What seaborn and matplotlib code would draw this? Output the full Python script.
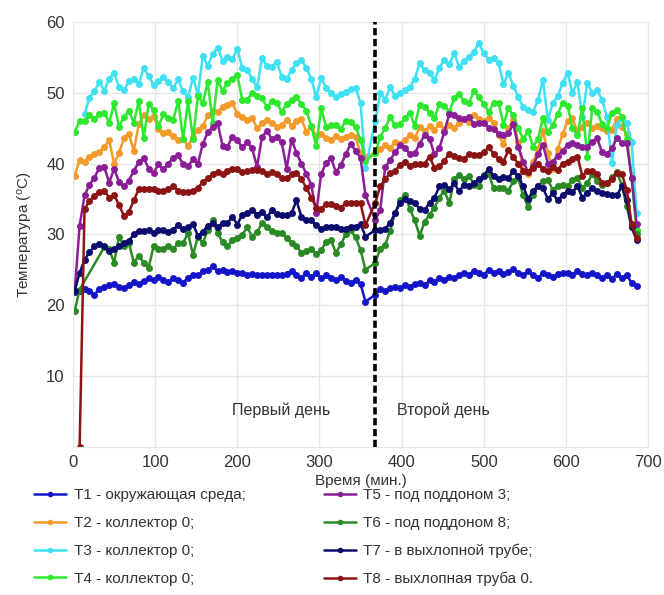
import numpy as np
import pandas as pd
import seaborn as sns
import matplotlib
matplotlib.use("Agg")
import matplotlib.pyplot as plt
from matplotlib.lines import Line2D

# ---- data ----
time_day1 = list(range(2, 357, 6))      # minutes, first day
time_day2 = list(range(368, 687, 6))    # minutes, second day
nan = np.nan

t1 = [21.8, 22.0, 22.3, 22.0, 21.5, 22.3, 22.6, 22.8, 23.0, 22.6,
      22.5, 22.8, 23.3, 23.0, 23.4, 23.8, 23.5, 24.0, 23.6, 23.3,
      23.8, 23.5, 23.2, 23.9, 24.3, 24.2, 24.8, 25.0, 25.5, 24.8,
      25.0, 24.7, 24.9, 24.6, 24.6, 24.3, 24.4, 24.2, 24.2, 24.2,
      24.2, 24.3, 24.2, 24.4, 24.9, 24.2, 23.8, 24.6, 24.0, 24.6,
      23.8, 24.2, 23.8, 23.5, 24.0, 23.4, 23.2, 23.6, 23.0, 20.5,
      21.5, 22.3, 22.0, 22.4, 22.6, 22.4, 22.8, 22.6, 23.0, 23.2,
      22.8, 23.5, 23.3, 23.8, 23.5, 24.0, 23.8, 24.2, 24.5, 24.3,
      24.9, 24.5, 24.3, 25.0, 24.6, 24.8, 24.4, 24.7, 25.1, 24.5,
      24.2, 24.8, 24.3, 23.9, 24.5, 24.3, 24.0, 24.4, 24.5, 24.6,
      24.3, 24.8, 24.4, 24.2, 24.6, 24.3, 23.9, 24.2, 23.7, 24.4,
      23.8, 24.2, 23.2, 22.7]

t2 = [38.3, 40.5, 40.2, 41.0, 41.3, 41.6, 42.3, 43.3, 40.0, 41.5,
      43.6, 44.2, 41.8, 45.6, 46.8, 46.3, 46.7, 44.9, 44.3, 44.4,
      43.9, 43.4, 43.5, 42.5, 43.8, 44.8, 45.3, 46.8, 47.5, 47.3,
      48.0, 48.3, 48.6, 47.0, 46.6, 46.2, 46.5, 45.0, 45.7, 46.2,
      45.8, 45.2, 45.4, 46.2, 45.3, 46.0, 46.3, 44.5, 45.2, 43.9,
      44.2, 43.6, 43.4, 43.9, 43.5, 43.8, 44.0, 43.7, 41.5, 41.0,
      41.5, 42.0, 42.6, 42.2, 43.0, 42.8, 43.4, 44.0, 43.6, 45.2,
      44.6, 45.3, 44.8, 45.6, 44.9, 45.4, 45.0, 45.8, 46.3, 45.9,
      46.8, 46.3, 46.0, 46.4, 45.8, 44.0, 42.8, 45.0, 46.2, 43.0,
      39.0, 38.5, 40.2, 42.0, 44.6, 41.5, 39.2, 42.0, 44.2, 46.0,
      46.4, 44.6, 45.2, 45.7, 45.0, 45.3, 45.0, 44.6, 44.8, 46.3,
      45.2, 44.2, 38.0, 30.6]

t3 = [nan, nan, 47.0, 49.3, 50.2, 51.5, 50.3, 52.0, 52.8, 50.8,
      50.4, 51.6, 52.0, 51.2, 53.5, 52.4, 51.1, 51.6, 52.3, 51.5,
      50.7, 51.9, 50.2, 49.4, 52.1, 49.8, 55.2, 53.8, 55.5, 56.4,
      54.5, 55.0, 54.8, 56.2, 53.5, 53.2, 52.0, 50.8, 54.9, 53.8,
      53.7, 54.4, 52.3, 52.0, 53.2, 54.2, 54.7, 53.5, 52.0, 49.4,
      52.1, 50.7, 50.0, 49.4, 49.8, 50.1, 50.5, 50.7, 48.6, 39.4,
      46.0, 50.0, 49.0, 50.8, 49.6, 50.0, 50.4, 50.8, 52.0, 54.2,
      53.2, 52.8, 51.8, 53.5, 54.7, 54.0, 55.6, 53.7, 54.5, 55.1,
      55.8, 57.0, 55.6, 54.7, 54.9, 54.2, 51.2, 52.8, 51.0, 49.4,
      48.0, 47.6, 47.3, 49.0, 51.8, 46.2, 48.5, 49.5, 51.4, 52.8,
      50.0, 51.5, 46.6, 51.4, 50.0, 50.4, 49.0, 46.6, 40.1, 45.5,
      46.4, 45.8, 43.0, 33.0]

t4 = [44.5, 46.0, 46.0, 46.8, 46.3, 47.0, 47.2, 45.8, 48.5, 45.2,
      46.6, 47.4, 45.8, 48.8, 43.6, 48.4, 47.6, 45.3, 47.0, 46.5,
      46.2, 48.8, 43.5, 48.8, 43.5, 49.5, 48.6, 51.5, 45.8, 51.8,
      50.3, 51.4, 52.0, 52.5, 49.0, 49.0, 50.0, 49.6, 49.3, 48.0,
      48.8, 48.6, 47.3, 48.4, 49.0, 49.4, 48.4, 47.5, 45.3, 42.5,
      47.8, 45.2, 45.4, 45.5, 44.9, 46.0, 45.9, 45.2, 43.4, 40.4,
      41.5, 43.8, 45.0, 46.6, 45.4, 45.6, 46.4, 47.2, 45.3, 48.3,
      48.0, 47.2, 46.5, 48.4, 48.2, 47.3, 49.2, 49.8, 48.8, 48.6,
      50.2, 49.4, 48.4, 47.3, 48.6, 48.6, 45.5, 47.8, 46.8, 45.0,
      43.5, 44.6, 42.4, 43.5, 46.4, 44.5, 45.4, 47.0, 48.6, 48.2,
      45.0, 44.0, 47.9, 41.0, 47.8, 47.3, 45.6, 45.0, 47.2, 47.6,
      46.6, 43.5, 38.0, 30.6]

t5 = [22.0, 31.2, 35.5, 37.0, 38.0, 39.4, 39.5, 37.3, 39.3, 37.4,
      36.8, 37.6, 39.0, 40.2, 40.8, 39.3, 38.7, 39.9, 39.2, 40.0,
      40.8, 41.2, 39.9, 39.6, 40.6, 40.0, 42.8, 44.4, 45.2, 45.8,
      42.5, 42.4, 43.8, 43.3, 42.3, 43.0, 42.2, 39.5, 43.8, 44.6,
      43.5, 43.8, 43.0, 39.3, 43.4, 41.5, 40.0, 38.6, 37.0, 33.0,
      38.5, 40.1, 40.8, 38.8, 39.8, 41.3, 42.8, 41.8, 40.8, 35.5,
      32.0, 33.5, 39.5, 40.5, 41.6, 42.6, 42.2, 41.4, 41.5, 42.8,
      44.1, 43.5, 41.3, 42.2, 44.5, 47.0, 46.8, 46.4, 46.3, 46.6,
      45.6, 45.8, 45.8, 45.1, 44.9, 44.2, 44.0, 44.3, 45.6, 42.4,
      40.3, 38.8, 39.7, 41.3, 42.7, 40.0, 40.3, 41.1, 41.8, 42.6,
      42.9, 42.7, 42.4, 42.4, 43.0, 43.6, 41.6, 41.3, 42.2, 43.6,
      42.9, 42.9, 38.0, 31.5]

t6 = [19.2, 22.2, nan, nan, nan, nan, 28.2, 27.9, 26.0, 29.7,
      28.3, 28.8, 26.0, 27.0, 26.0, 25.3, 28.3, 27.9, 27.9, 28.3,
      27.9, 28.8, 28.8, 30.2, 27.1, 29.7, 28.8, 30.6, 32.0, 30.2,
      28.9, 28.3, 29.2, 29.5, 29.9, 31.0, 29.7, 30.3, 31.6, 31.0,
      30.5, 30.2, 30.2, 29.5, 28.8, 28.4, 27.4, 27.7, 27.9, 27.3,
      27.8, 28.9, 29.2, 27.4, 28.6, 30.0, 30.6, 29.6, 27.8, 25.0,
      26.0, 28.0, 28.5, 30.5, 33.0, 34.8, 35.6, 33.6, 32.0, 29.8,
      31.8, 32.8, 33.8, 35.2, 36.2, 34.4, 37.8, 38.4, 37.8, 38.3,
      37.0, 36.8, 38.4, 38.6, 36.5, 36.6, 36.6, 36.2, 37.5, 37.9,
      35.5, 33.9, 35.6, 36.8, 37.6, 37.7, 36.3, 36.9, 37.0, 36.8,
      37.7, 38.0, 36.5, 37.2, 38.5, 37.5, 37.0, 37.2, 38.1, 38.8,
      37.0, 34.0, 31.0, 30.0]

t7 = [22.0, 24.6, 26.4, 27.5, 28.3, 28.7, 28.3, 27.7, 28.0, 28.4,
      28.8, 29.1, 30.0, 30.5, 30.5, 30.6, 30.2, 30.6, 30.6, 30.4,
      30.6, 31.4, 30.7, 31.0, 31.5, 29.8, 30.4, 31.2, 31.6, 31.1,
      31.6, 31.6, 32.5, 31.4, 32.8, 33.0, 33.5, 32.8, 33.2, 32.4,
      33.4, 32.9, 32.8, 32.8, 33.0, 34.8, 32.5, 32.1, 32.0, 31.3,
      30.8, 31.1, 31.1, 31.1, 30.8, 30.8, 31.1, 31.1, 31.5, 29.7,
      30.6, 30.6, 30.8, 31.6, 33.0, 34.4, 35.0, 34.7, 34.4, 33.6,
      33.4, 34.5, 35.2, 36.8, 37.0, 36.4, 37.2, 36.1, 37.0, 36.9,
      37.2, 37.8, 38.3, 39.3, 38.2, 37.8, 38.1, 38.0, 38.9, 38.2,
      36.8, 35.0, 36.2, 36.8, 36.6, 35.0, 35.8, 34.8, 35.6, 36.1,
      36.0, 36.8, 35.2, 35.9, 36.5, 36.2, 35.8, 35.7, 35.5, 35.5,
      36.8, 34.8, 31.0, 29.2]

t8 = [nan, 0.0, 33.6, 34.7, 35.4, 36.0, 36.2, 35.2, 35.5, 34.2,
      32.6, 33.2, 34.8, 36.4, 36.4, 36.4, 36.4, 36.2, 36.2, 36.4,
      36.8, 36.2, 36.0, 36.0, 36.1, 36.6, 37.4, 37.9, 38.5, 38.8,
      38.5, 38.9, 39.3, 39.2, 38.8, 38.9, 39.1, 39.1, 39.0, 38.5,
      38.8, 38.6, 38.0, 37.9, 38.5, 38.7, 37.8, 36.6, 35.2, 33.8,
      33.6, 34.3, 34.3, 34.0, 33.7, 34.5, 34.5, 34.4, 34.4, 31.3,
      34.5, 36.8, 37.8, 38.7, 39.0, 39.8, 40.3, 39.7, 40.0, 39.9,
      40.0, 41.0, 39.4, 39.6, 40.4, 41.4, 41.1, 40.8, 40.6, 41.4,
      41.2, 41.2, 41.6, 42.3, 41.4, 40.6, 40.3, 41.9, 40.9, 40.0,
      39.0, 38.8, 39.4, 40.0, 39.2, 38.9, 39.5, 39.1, 40.0, 40.3,
      40.7, 41.0, 38.3, 38.9, 39.0, 38.5, 37.3, 37.3, 37.8, 38.7,
      38.6, 36.3, 31.5, 29.5]

labels = ["T1 - окружающая среда;", "T2 - коллектор 0;", "T3 - коллектор 0;",
          "T4 - коллектор 0;", "T5 - под поддоном 3;", "T6 - под поддоном 8;",
          "T7 - в выхлопной трубе;", "T8 - выхлопная труба 0."]
colors = ["#1414c8", "#f39a2b", "#3ee0f2", "#2ee82e",
          "#8a1e96", "#2a8a24", "#0c0c6e", "#8c1414"]

series = [t1, t2, t3, t4, t5, t6, t7, t8]
times = time_day1 + time_day2
frames = [pd.DataFrame({"time": times, "temp": vals, "sensor": lab})
          for lab, vals in zip(labels, series)]
df = pd.concat(frames).dropna()

# ---- plotting ----
sns.set_style("white")
plt.rcParams["font.family"] = ["Liberation Sans", "DejaVu Sans"]
plt.rcParams["mathtext.fontset"] = "custom"
plt.rcParams["mathtext.rm"] = "Liberation Sans"
plt.rcParams["mathtext.it"] = "Liberation Sans"

fig = plt.figure(figsize=(6.64, 5.95), dpi=100)
ax = fig.add_axes([0.11, 0.249, 0.866, 0.714])

sns.lineplot(data=df, x="time", y="temp", hue="sensor", hue_order=labels,
             palette=colors, marker="o", markersize=5, markeredgewidth=0,
             linewidth=1.8, estimator=None, legend=False, ax=ax)

ax.axvline(368, color="black", linestyle=(0, (2, 1)), linewidth=2.6, zorder=5)

ax.text(193, 5.2, "Первый день", fontsize=11.5, color="#333333", va="center", ha="left")
ax.text(394, 5.2, "Второй день", fontsize=11.5, color="#333333", va="center", ha="left")

ax.set_xlim(0, 700)
ax.set_ylim(0, 60)
ax.set_xticks(range(0, 701, 100))
ax.set_yticks(range(10, 61, 10))
ax.tick_params(labelsize=12, length=0, pad=6, colors="#333333")
ax.grid(True, color="#e6e6e6", linewidth=1)
for s in ax.spines.values():
    s.set_color("#e6e6e6")

ax.set_xlabel("Время (мин.)", fontsize=11, color="#333333", labelpad=3)
ax.set_ylabel("Температура ($^{\\mathrm{o}}$C)", fontsize=11, color="#333333", labelpad=8)

handles = [Line2D([0], [0], color=c, linewidth=1.8, marker="o", markersize=4,
                  markeredgewidth=0) for c in colors]
fig.legend(handles, labels, loc="upper left", bbox_to_anchor=(0.04, 0.192),
           ncol=2, frameon=False, fontsize=11, handlelength=2.1,
           handletextpad=0.5, columnspacing=5.1, labelspacing=0.9,
           borderpad=0, labelcolor="#333333")

fig.savefig("out.png", dpi=100)
